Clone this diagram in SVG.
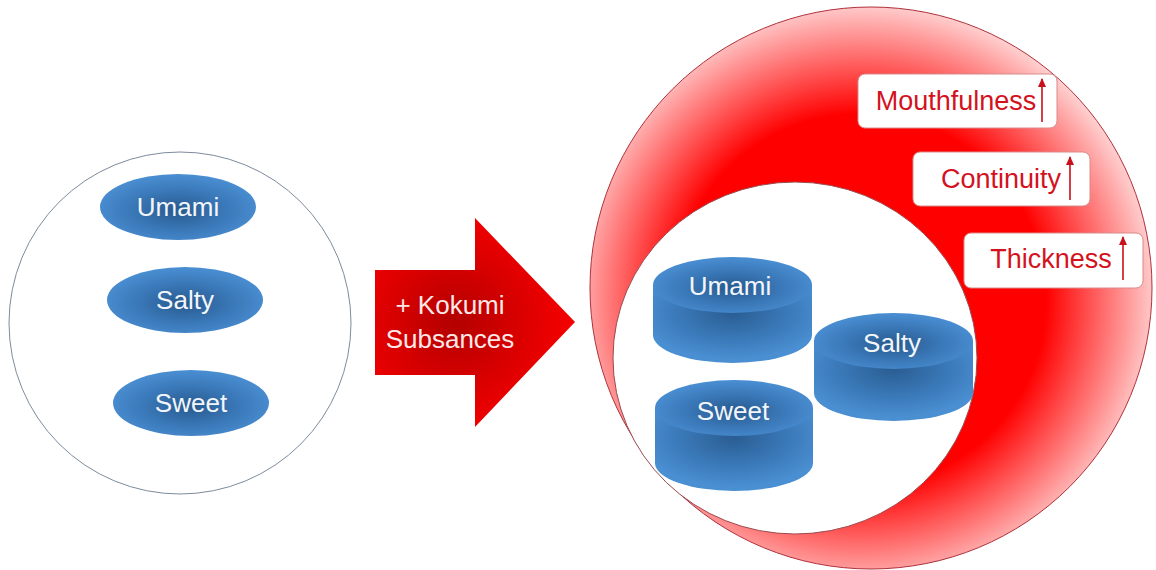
<svg xmlns="http://www.w3.org/2000/svg" width="1156" height="570" viewBox="0 0 1156 570">
<defs>
<radialGradient id="blueG" cx="0.5" cy="0.55" r="0.55">
<stop offset="0" stop-color="#285a8e"/>
<stop offset="0.55" stop-color="#3a78b8"/>
<stop offset="1" stop-color="#4a8fd3"/>
</radialGradient>
<radialGradient id="bodyG" cx="0.5" cy="0.35" r="0.6">
<stop offset="0" stop-color="#2a5d92"/>
<stop offset="0.6" stop-color="#3b7aba"/>
<stop offset="1" stop-color="#4a8fd2"/>
</radialGradient>
<radialGradient id="redG" gradientUnits="userSpaceOnUse" cx="860" cy="300" r="300">
<stop offset="0" stop-color="#ff0000"/>
<stop offset="0.62" stop-color="#ff0000"/>
<stop offset="1" stop-color="#ffd6d6"/>
</radialGradient>
<radialGradient id="arrowG" gradientUnits="userSpaceOnUse" cx="455" cy="322" r="135">
<stop offset="0" stop-color="#b30000"/>
<stop offset="0.6" stop-color="#e30000"/>
<stop offset="1" stop-color="#ff0000"/>
</radialGradient>
<marker id="up" markerWidth="9" markerHeight="8" refX="8" refY="4" orient="auto" markerUnits="userSpaceOnUse" viewBox="0 0 9 8">
<path d="M0,0 L9,4 L0,8 Z" fill="#c8101a"/>
</marker>
</defs>
<style>
.lbl{font-family:"Liberation Sans",Arial,sans-serif;font-size:26px;fill:#f2f6fa;text-anchor:middle}
.red{font-family:"Liberation Sans",Arial,sans-serif;font-size:27px;fill:#d4121e;text-anchor:middle}
.box{fill:#ffffff;stroke:#d98a8a;stroke-width:1}
.uparr{stroke:#c8101a;stroke-width:1.6;fill:none}
.ell{fill:url(#blueG)}
.body{fill:url(#bodyG)}
.top{fill:url(#blueG)}
</style>
<rect width="1156" height="570" fill="#ffffff"/>

<g id="before">
<circle cx="180" cy="323" r="171" fill="#ffffff" stroke="#7d8b9c" stroke-width="1"/>
</g>
<g id="before-umami">
<ellipse class="ell" cx="178" cy="207" rx="78" ry="33"/>
<text class="lbl" x="178" y="216">Umami</text>
</g>
<g id="before-salty">
<ellipse class="ell" cx="185" cy="300" rx="78" ry="33"/>
<text class="lbl" x="185" y="309">Salty</text>
</g>
<g id="before-sweet">
<ellipse class="ell" cx="191" cy="403" rx="78" ry="33"/>
<text class="lbl" x="191" y="412">Sweet</text>
</g>

<g id="after">
<circle cx="871" cy="288" r="281" fill="url(#redG)" stroke="#b0303a" stroke-width="1"/>
<ellipse cx="795" cy="358" rx="182" ry="176" fill="#ffffff" stroke="#9a4a50" stroke-width="1"/>
</g>

<g id="after-umami">
<path class="body" d="M653,285 L653,335 A79.5,28 0 0 0 812,335 L812,285 Z"/>
<ellipse class="top" cx="732.5" cy="285" rx="79.5" ry="28"/>
<text class="lbl" x="730" y="295">Umami</text>
</g>
<g id="after-salty">
<path class="body" d="M814,341 L814,393 A79.5,28 0 0 0 973,393 L973,341 Z"/>
<ellipse class="top" cx="893.5" cy="341" rx="79.5" ry="28"/>
<text class="lbl" x="892" y="352">Salty</text>
</g>
<g id="after-sweet">
<path class="body" d="M655,408 L655,463 A79,28 0 0 0 813,463 L813,408 Z"/>
<ellipse class="top" cx="734" cy="408" rx="79" ry="28"/>
<text class="lbl" x="733" y="420">Sweet</text>
</g>

<g id="mouthfulness">
<rect class="box" x="858" y="74" width="199" height="54" rx="7"/>
<text class="red" x="956" y="110">Mouthfulness</text>
<line class="uparr" x1="1042" y1="122" x2="1042" y2="79" marker-end="url(#up)"/>
</g>
<g id="continuity">
<rect class="box" x="913" y="152" width="177" height="54" rx="7"/>
<text class="red" x="1001" y="188">Continuity</text>
<line class="uparr" x1="1070" y1="200" x2="1070" y2="157" marker-end="url(#up)"/>
</g>
<g id="thickness">
<rect class="box" x="964" y="233" width="179" height="55" rx="7"/>
<text class="red" x="1051" y="268">Thickness</text>
<line class="uparr" x1="1123" y1="280" x2="1123" y2="237" marker-end="url(#up)"/>
</g>

<g id="connectors">
<polygon points="375,270 475,270 475,218 575,322 475,427 475,375 375,375" fill="url(#arrowG)"/>
<text class="lbl" x="450" y="314" style="fill:#ffe8e8">+ Kokumi</text>
<text class="lbl" x="450" y="348" style="fill:#ffe8e8">Subsances</text>
</g>
</svg>
